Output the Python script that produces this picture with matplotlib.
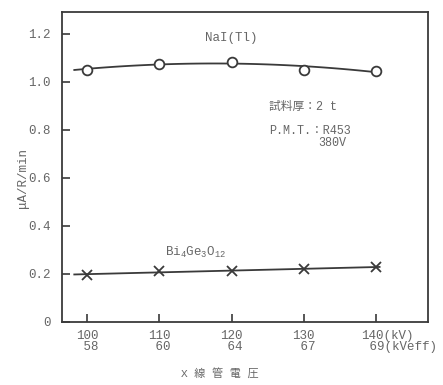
import numpy as np
import matplotlib.pyplot as plt

plt.rcParams['font.family'] = ['Liberation Mono', 'Noto Sans CJK JP']
plt.rcParams['mathtext.fontset'] = 'custom'
plt.rcParams['mathtext.rm'] = 'Liberation Mono'
plt.rcParams['mathtext.it'] = 'Liberation Mono'

# X-ray tube voltage (kV) and effective energy (kVeff)
kv = [100, 110, 120, 130, 140]
kveff = [58, 60, 64, 67, 69]

nai = [1.05, 1.075, 1.083, 1.05, 1.045]
bgo = [0.197, 0.21, 0.21, 0.222, 0.228]

yticks = [0, 0.2, 0.4, 0.6, 0.8, 1.0, 1.2]
ink = '#3a3a3a'
txt = '#666666'

fig = plt.figure(figsize=(4.43, 3.85), dpi=100)
ax = fig.add_axes([0.140, 0.164, 0.826, 0.805])

# smooth curves fitted through the measured points
xs = np.linspace(98.2, 140.5, 100)
ax.plot(xs, np.polyval(np.polyfit(kv, nai, 2), xs), color=ink, lw=1.3)
ax.plot(xs, np.polyval(np.polyfit(kv, bgo, 1), xs), color=ink, lw=1.3)
ax.plot(kv, nai, 'o', ms=7, mfc='white', mec=ink, mew=1.3)
ax.plot(kv, bgo, 'x', ms=7, color=ink, mew=1.3)

ax.set_xlim(96.5, 147.2)
ax.set_ylim(0, 1.29)
ax.set_yticks(yticks)
ax.set_yticklabels(['0' if v == 0 else '%.1f' % v for v in yticks])
ax.set_xticks(kv)
ax.set_xticklabels([])
ax.tick_params(direction='in', length=6, width=1.2, color=ink,
               labelsize=9, labelcolor=txt, pad=8)
for s in ax.spines.values():
    s.set_color(ink)
    s.set_linewidth(1.3)

# two-line x tick labels, units on the last one
trans = ax.get_xaxis_transform()
for i, (a, b) in enumerate(zip(kv, kveff)):
    if i < len(kv) - 1:
        ax.text(a, -0.025, '%d\n %d' % (a, b), transform=trans, ha='center',
                va='top', fontsize=9, color=txt, linespacing=0.9)
    else:
        ax.text(a - 2.0, -0.025, '%d(kV)\n %d(kVeff)' % (a, b), transform=trans,
                ha='left', va='top', fontsize=9, color=txt, linespacing=0.9)

ax.text(120, 1.18, 'NaI(Tl)', ha='center', va='center', fontsize=9, color=txt)
ax.text(115, 0.29, r'Bi$_4$Ge$_3$O$_{12}$', ha='center', va='center',
        fontsize=9, color=txt)
ax.text(125.2, 0.895, '試料厚：2 t', ha='left', va='center', fontsize=8.5, color=txt)
ax.text(125.2, 0.795, 'P.M.T.：R453', ha='left', va='center', fontsize=8.5, color=txt)
ax.text(132.0, 0.745, '380V', ha='left', va='center', fontsize=8.5, color=txt)

fig.text(0.052, 0.538, 'μA/R/min', rotation=90, ha='center', va='center',
         fontsize=9, color=txt)
fig.text(0.497, 0.031, 'X 線 管 電 圧', ha='center', va='center', fontsize=8, color=txt)

fig.savefig('out.png', dpi=100)
